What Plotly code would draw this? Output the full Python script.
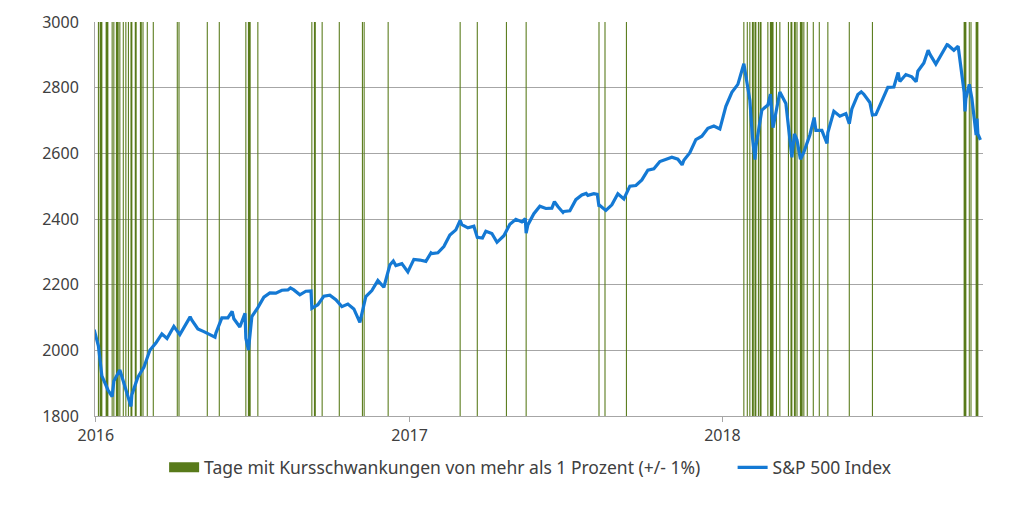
import pandas as pd
import plotly.graph_objects as go

# S&P 500 closes
sp_dates = [
    "2015-12-30", "2016-01-04", "2016-01-08", "2016-01-15", "2016-01-20", "2016-01-22", "2016-01-29",
    "2016-02-05", "2016-02-11", "2016-02-12", "2016-02-19", "2016-02-26", "2016-03-04", "2016-03-11",
    "2016-03-18", "2016-03-24", "2016-04-01", "2016-04-08", "2016-04-15", "2016-04-20", "2016-04-22",
    "2016-04-29", "2016-05-06", "2016-05-13", "2016-05-19", "2016-05-20", "2016-05-27", "2016-06-03",
    "2016-06-08", "2016-06-10", "2016-06-17", "2016-06-23", "2016-06-24", "2016-06-27", "2016-07-01",
    "2016-07-08", "2016-07-15", "2016-07-22", "2016-07-29", "2016-08-05", "2016-08-12", "2016-08-15",
    "2016-08-19", "2016-08-26", "2016-09-02", "2016-09-08", "2016-09-09", "2016-09-16", "2016-09-23",
    "2016-09-30", "2016-10-07", "2016-10-14", "2016-10-21", "2016-10-28", "2016-11-04", "2016-11-11",
    "2016-11-18", "2016-11-25", "2016-12-02", "2016-12-09", "2016-12-13", "2016-12-16", "2016-12-23",
    "2016-12-30",
    "2017-01-06", "2017-01-13", "2017-01-20", "2017-01-26", "2017-01-27", "2017-02-03", "2017-02-10",
    "2017-02-17", "2017-02-24", "2017-03-01", "2017-03-03", "2017-03-10", "2017-03-17", "2017-03-21",
    "2017-03-24", "2017-03-27", "2017-03-31", "2017-04-07", "2017-04-13", "2017-04-21", "2017-04-28",
    "2017-05-05", "2017-05-12", "2017-05-16", "2017-05-17", "2017-05-19", "2017-05-26", "2017-06-02",
    "2017-06-09", "2017-06-16", "2017-06-19", "2017-06-23", "2017-06-29", "2017-06-30", "2017-07-07",
    "2017-07-14", "2017-07-21", "2017-07-26", "2017-07-28", "2017-08-04", "2017-08-08", "2017-08-10",
    "2017-08-11", "2017-08-17", "2017-08-18", "2017-08-25", "2017-09-01", "2017-09-08", "2017-09-15",
    "2017-09-22", "2017-09-29", "2017-10-06", "2017-10-13", "2017-10-20", "2017-10-27", "2017-11-03",
    "2017-11-10", "2017-11-15", "2017-11-17", "2017-11-24", "2017-12-01", "2017-12-08", "2017-12-15",
    "2017-12-22", "2017-12-29",
    "2018-01-05", "2018-01-12", "2018-01-19", "2018-01-26", "2018-02-02", "2018-02-05", "2018-02-08",
    "2018-02-09", "2018-02-16", "2018-02-23", "2018-02-26", "2018-03-01", "2018-03-02", "2018-03-09",
    "2018-03-16", "2018-03-23", "2018-03-26", "2018-03-29", "2018-04-02", "2018-04-06", "2018-04-13",
    "2018-04-18", "2018-04-20", "2018-04-27", "2018-05-03", "2018-05-04", "2018-05-11", "2018-05-18",
    "2018-05-25", "2018-05-29", "2018-06-01", "2018-06-08", "2018-06-12", "2018-06-15", "2018-06-22",
    "2018-06-25", "2018-06-29", "2018-07-06", "2018-07-13", "2018-07-20", "2018-07-25", "2018-07-27",
    "2018-08-03", "2018-08-10", "2018-08-15", "2018-08-17", "2018-08-24", "2018-08-29", "2018-08-31",
    "2018-09-07", "2018-09-14", "2018-09-20", "2018-09-21", "2018-09-28", "2018-10-03", "2018-10-05",
    "2018-10-10", "2018-10-11", "2018-10-12", "2018-10-16", "2018-10-19", "2018-10-24", "2018-10-25",
    "2018-10-26", "2018-10-29",
]
sp_values = [
    2063, 2013, 1922, 1880, 1859, 1907, 1940,
    1880, 1829, 1865, 1918, 1948, 2000, 2022,
    2050, 2036, 2073, 2048, 2081, 2102, 2092,
    2065, 2057, 2047, 2040, 2052, 2099, 2099,
    2119, 2096, 2071, 2113, 2037, 2001, 2103,
    2130, 2162, 2175, 2174, 2183, 2184, 2190,
    2184, 2169, 2180, 2181, 2128, 2139, 2165,
    2168, 2154, 2133, 2141, 2126, 2085, 2164,
    2182, 2213, 2192, 2260, 2272, 2258, 2264,
    2239,
    2277, 2275, 2271, 2297, 2295, 2297, 2316,
    2351, 2367, 2396, 2383, 2373, 2378, 2344,
    2344, 2342, 2363, 2356, 2329, 2349, 2384,
    2399, 2391, 2401, 2357, 2382, 2416, 2439,
    2432, 2433, 2453, 2438, 2420, 2423, 2425,
    2459, 2473, 2478, 2472, 2477, 2475, 2438,
    2441, 2430, 2426, 2443, 2477, 2461, 2500,
    2502, 2519, 2549, 2553, 2575, 2581, 2588,
    2582, 2565, 2579, 2602, 2642, 2652, 2676,
    2683, 2674,
    2743, 2786, 2810, 2873, 2762, 2649, 2581,
    2620, 2732, 2747, 2780, 2678, 2691, 2787,
    2752, 2588, 2659, 2641, 2582, 2604, 2656,
    2709, 2670, 2670, 2630, 2663, 2728, 2713,
    2721, 2690, 2735, 2779, 2787, 2780, 2755,
    2717, 2718, 2760, 2801, 2802, 2846, 2819,
    2840, 2833, 2818, 2850, 2875, 2914, 2902,
    2872, 2905, 2931, 2930, 2914, 2926, 2886,
    2786, 2728, 2767, 2810, 2768, 2656, 2706,
    2659, 2641,
]

# Days with index moves of more than +/- 1 %
vol_days = [
    "2016-01-04", "2016-01-06", "2016-01-07", "2016-01-08", "2016-01-13", "2016-01-14", "2016-01-15",
    "2016-01-20", "2016-01-22", "2016-01-25", "2016-01-26", "2016-01-27", "2016-01-29", "2016-02-02",
    "2016-02-05", "2016-02-08", "2016-02-11", "2016-02-12", "2016-02-16", "2016-02-17", "2016-02-22",
    "2016-02-23", "2016-02-25", "2016-03-01", "2016-03-08", "2016-04-05", "2016-04-07", "2016-05-10",
    "2016-05-24", "2016-06-24", "2016-06-27", "2016-06-28", "2016-06-29", "2016-07-08", "2016-09-09",
    "2016-09-12", "2016-09-13", "2016-09-21", "2016-10-11", "2016-11-07", "2016-11-09", "2016-12-07",
    "2017-03-01", "2017-03-21", "2017-04-24", "2017-05-17", "2017-08-10", "2017-08-17", "2017-09-11",
    "2018-01-26", "2018-01-30", "2018-02-02", "2018-02-05", "2018-02-06", "2018-02-08", "2018-02-09",
    "2018-02-12", "2018-02-14", "2018-02-15", "2018-02-23", "2018-02-26", "2018-02-27", "2018-02-28",
    "2018-03-01", "2018-03-05", "2018-03-09", "2018-03-19", "2018-03-22", "2018-03-23", "2018-03-26",
    "2018-03-27", "2018-03-29", "2018-04-02", "2018-04-03", "2018-04-04", "2018-04-06", "2018-04-10",
    "2018-04-17", "2018-04-24", "2018-05-04", "2018-05-29", "2018-06-25", "2018-10-10", "2018-10-11",
    "2018-10-12", "2018-10-16", "2018-10-18", "2018-10-24", "2018-10-25", "2018-10-26",
]
vol_top = 3000
vol_bottom = 1800

y_ticks = [1800, 2000, 2200, 2400, 2600, 2800, 3000]
x_ticks = ["2016-01-01", "2017-01-01", "2018-01-01"]
x_tick_labels = ["2016", "2017", "2018"]

vol_name = "Tage mit Kursschwankungen von mehr als 1 Prozent (+/- 1%)"
sp_name = "S&P 500 Index"
green = "#587a1a"
blue = "#1479d4"
font_family = "Noto Sans, Open Sans, sans-serif"

# each volatile day becomes a one-day-wide filled column
half = pd.Timedelta(hours=15)
vx, vy = [], []
for d in vol_days:
    t = pd.Timestamp(d)
    a, b = t - half, t + half
    vx += [a, b, b, a, a, None]
    vy += [vol_bottom, vol_bottom, vol_top, vol_top, vol_bottom, None]

fig = go.Figure()
fig.add_trace(go.Scatter(
    x=vx, y=vy, mode="lines", fill="toself",
    fillcolor=green, line=dict(width=0, color=green),
    name=vol_name, legendgroup="vol", showlegend=False,
    hoverinfo="skip",
))
# legend swatch for the columns (rectangle)
fig.add_trace(go.Scatter(
    x=[None], y=[None], mode="lines",
    line=dict(width=12, color=green),
    name=vol_name + "\u00a0" * 6, legendgroup="vol", showlegend=True,
))
fig.add_trace(go.Scatter(
    x=sp_dates, y=sp_values, mode="lines",
    line=dict(color=blue, width=3.2),
    name=sp_name,
))

fig.update_layout(
    width=1023, height=516,
    margin=dict(l=95, r=40, t=22, b=100),
    paper_bgcolor="white", plot_bgcolor="white",
    font=dict(family=font_family, size=16, color="#404040"),
    showlegend=True,
    legend=dict(orientation="h", x=0.49, xanchor="center", y=-0.085, yanchor="top",
                font=dict(size=17.5, color="#404040"), itemwidth=30, traceorder="normal"),
    xaxis=dict(
        type="date", range=["2015-12-31", "2018-11-01"],
        tickvals=x_ticks, ticktext=x_tick_labels,
        showgrid=False, showline=True, linecolor="#a6a6a6", linewidth=1,
        ticks="outside", ticklen=5, tickcolor="#a6a6a6",
        tickfont=dict(size=16, color="#404040"),
    ),
    yaxis=dict(
        range=[1800, 3000], tickvals=y_ticks,
        showgrid=True, gridcolor="#a6a6a6", gridwidth=1,
        showline=True, linecolor="#a6a6a6", linewidth=1,
        zeroline=False, ticks="", ticklabelstandoff=12,
        tickfont=dict(size=16, color="#404040"),
    ),
)

fig.write_html("out.html")
